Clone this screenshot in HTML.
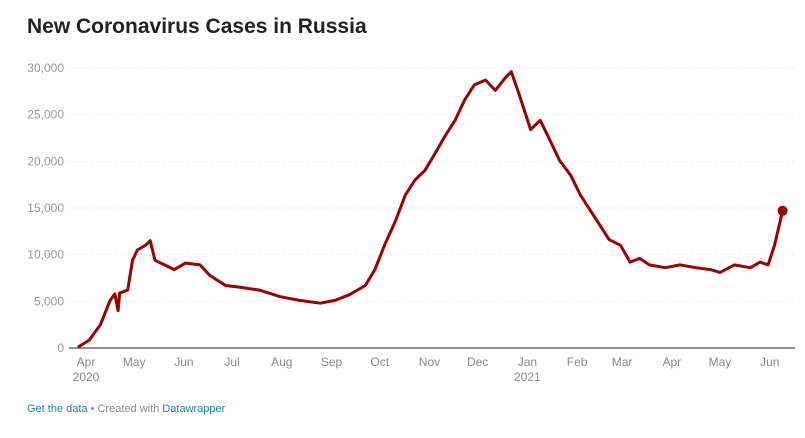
<!DOCTYPE html>
<html><head><meta charset="utf-8"><style>
body{margin:0;background:#fff;font-family:"Liberation Sans",sans-serif;}
#wrap{position:relative;width:805px;height:438px;overflow:hidden;}
h1{position:absolute;left:27px;top:15px;margin:0;font-size:21px;font-weight:bold;color:#222;}
#foot{position:absolute;left:27px;top:403px;font-size:11px;color:#888;}
#foot a{color:#1d81a2;text-decoration:none;}
</style></head><body>
<div id="wrap">
<h1>New Coronavirus Cases in Russia</h1>
<svg id="chart" width="805" height="438" style="position:absolute;left:0;top:0"></svg>
<div id="foot"><a href="#">Get the data</a> • Created with <a href="#">Datawrapper</a></div>
</div>
<script>
const days=[-5,2,9,15,18,20,21,26,29,32,37,40,43,49,55,62,71,77,87,96,108,121,133,146,155,164,174,180,186,193,199,205,211,217,224,230,236,242,249,255,261,265,270,277,283,289,295,302,308,314,320,326,333,339,345,351,361,370,380,389,395,404,414,420,425,429,434];
const cases=[100,850,2500,5100,5800,4000,5900,6200,9400,10500,11000,11500,9400,8900,8400,9100,8900,7800,6700,6500,6200,5500,5100,4800,5100,5700,6700,8400,11000,13700,16400,18000,19000,20700,22800,24400,26600,28200,28700,27600,28900,29600,27100,23400,24400,22300,20100,18500,16400,14800,13200,11600,11000,9200,9600,8900,8600,8900,8600,8400,8100,8900,8600,9200,8900,11000,14700];
const yTicks=[0,5000,10000,15000,20000,25000,30000];
const monthLabels=["Apr","May","Jun","Jul","Aug","Sep","Oct","Nov","Dec","Jan","Feb","Mar","Apr","May","Jun"];
const monthDays=[0,30,61,91,122,153,183,214,244,275,306,334,365,395,426];
const NS="http://www.w3.org/2000/svg";
const svg=document.getElementById('chart');
const x=d=>86+d*1.605;
const y=v=>348-v/30000*280;
function mk(t,a){const e=document.createElementNS(NS,t);for(const k in a)e.setAttribute(k,a[k]);svg.appendChild(e);return e;}
yTicks.forEach(v=>{
  if(v>0){const g=mk('line',{x1:69,x2:795,y1:y(v),y2:y(v),stroke:'#e0e0e0','stroke-width':1,'stroke-dasharray':'1,2'});
  
  }
  const t=mk('text',{x:64,y:y(v)+4,'text-anchor':'end','font-size':12,fill:'#999','font-family':'Liberation Sans'});
  t.textContent=v.toLocaleString('en-US');
  
  
});
const base=mk('line',{x1:69,x2:795,y1:348,y2:348,stroke:'#222','stroke-width':1});


monthLabels.forEach((m,i)=>{
  const t=mk('text',{x:x(monthDays[i]),y:366,'text-anchor':'middle','font-size':12,fill:'#888','font-family':'Liberation Sans'});
  t.textContent=m;
  
  
  if(m==="Apr"&&i===0||m==="Jan"){
    const yr=mk('text',{x:x(monthDays[i]),y:381,'text-anchor':'middle','font-size':12,fill:'#888','font-family':'Liberation Sans'});
    yr.textContent=i===0?"2020":"2021";
    
    
  }
});
const p=mk('path',{d:days.map((d,i)=>(i?'L':'M')+x(d).toFixed(1)+','+y(cases[i]).toFixed(1)).join(''),fill:'none',stroke:'#990000','stroke-width':3,'stroke-linejoin':'round'});


const n=days.length-1;
const c=mk('circle',{cx:x(days[n]),cy:y(cases[n]),r:5,fill:'#990000'});


</script>
</body></html>
